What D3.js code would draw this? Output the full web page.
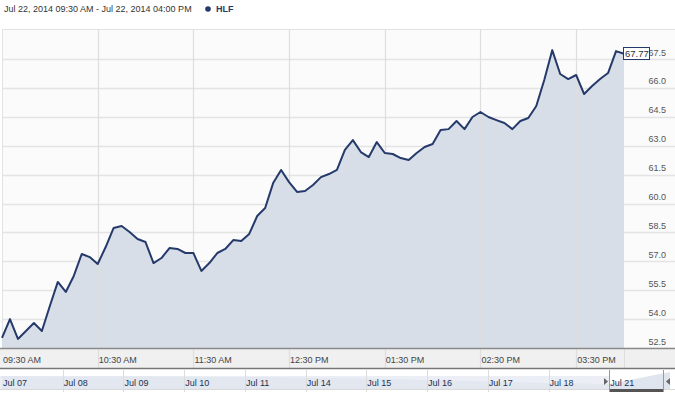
<!DOCTYPE html>
<html>
<head>
<meta charset="utf-8">
<script src="https://cdn.jsdelivr.net/npm/d3@7/dist/d3.min.js"></script>
<style>
body { margin: 0; background: #fff; }
svg { display: block; font-family: "Liberation Sans", Arial, sans-serif; }
</style>
</head>
<body>
<script>
// HLF intraday, 5 minute closes from 09:30 to 16:00
var symbol = "HLF";
var rangeTitle = "Jul 22, 2014 09:30 AM - Jul 22, 2014 04:00 PM";
var startTime = new Date(2014, 6, 22, 9, 30);
var endTime = new Date(2014, 6, 22, 16, 0);
var stepMinutes = 5;
var prices = [53.02, 54.00, 52.97, 53.38, 53.80, 53.38, 54.68, 55.93, 55.41, 56.24,
  57.38, 57.22, 56.86, 57.74, 58.73, 58.83, 58.52, 58.16, 58.00, 56.91,
  57.17, 57.69, 57.64, 57.43, 57.43, 56.50, 56.91, 57.43, 57.64, 58.10,
  58.05, 58.42, 59.35, 59.77, 61.06, 61.74, 61.11, 60.60, 60.65, 60.96,
  61.37, 61.53, 61.74, 62.78, 63.29, 62.67, 62.41, 63.19, 62.62, 62.57,
  62.36, 62.26, 62.62, 62.93, 63.09, 63.81, 63.86, 64.28, 63.86, 64.49,
  64.75, 64.49, 64.33, 64.18, 63.86, 64.28, 64.44, 65.06, 66.41, 67.96,
  66.72, 66.46, 66.67, 65.68, 66.10, 66.46, 66.77, 67.91, 67.77];
var yTicks = [52.5, 54.0, 55.5, 57.0, 58.5, 60.0, 61.5, 63.0, 64.5, 66.0, 67.5];
var xTickHours = ["09:30 AM", "10:30 AM", "11:30 AM", "12:30 PM", "01:30 PM", "02:30 PM", "03:30 PM"];

// navigator (daily)
var navDays = ["Jul 07", "Jul 08", "Jul 09", "Jul 10", "Jul 11", "Jul 14", "Jul 15", "Jul 16", "Jul 17", "Jul 18", "Jul 21", "Jul 22"];
var navClose = [64.2, 63.8, 64.0, 63.6, 63.3, 62.6, 61.9, 60.6, 59.2, 57.8, 57.0, 67.77];

var width = 675, height = 395;
var lineColor = "#253a6b";
var fs = 9;

var svg = d3.select("body").append("svg").attr("width", width).attr("height", height);

var parseTick = d3.timeParse("%I:%M %p");
var data = prices.map(function(p, i) {
  return { t: d3.timeMinute.offset(startTime, i * stepMinutes), v: p };
});

var x = d3.scaleTime().domain([startTime, endTime]).range([2, 624]);
var y = d3.scaleLinear().domain([52.5, 67.5]).range([348, 59]);

// title
svg.append("text").attr("x", 4).attr("y", 12).attr("font-size", fs).attr("fill", "#333").text(rangeTitle);
svg.append("circle").attr("cx", 208).attr("cy", 9).attr("r", 2.8).attr("fill", lineColor);
svg.append("text").attr("x", 216).attr("y", 12).attr("font-size", fs).attr("font-weight", "bold")
  .attr("fill", lineColor).text(symbol);

// plot background
svg.append("rect").attr("x", 2).attr("y", 29).attr("width", width - 2).attr("height", 319).attr("fill", "#fbfbfb");
svg.append("line").attr("x1", 2).attr("x2", width).attr("y1", 29.5).attr("y2", 29.5).attr("stroke", "#e2e2e2");
svg.append("line").attr("x1", 2.5).attr("x2", 2.5).attr("y1", 29).attr("y2", 348).attr("stroke", "#e2e2e2");

// horizontal grid + right labels
var yAxis = svg.append("g").selectAll("g").data(yTicks).enter().append("g");
yAxis.append("line").attr("x1", 2).attr("x2", width)
  .attr("y1", function(d) { return Math.round(y(d)) + 0.5; })
  .attr("y2", function(d) { return Math.round(y(d)) + 0.5; })
  .attr("stroke", "#e4e4e4").attr("stroke-width", 1.5);
yAxis.append("text").attr("x", 666).attr("y", function(d) { return y(d) - 3.5; })
  .attr("text-anchor", "end").attr("font-size", fs).attr("fill", "#555")
  .text(d3.format(".1f"));

// area + line
var area = d3.area().x(function(d) { return x(d.t); }).y0(348).y1(function(d) { return y(d.v); });
var line = d3.line().x(function(d) { return x(d.t); }).y(function(d) { return y(d.v); });

svg.append("path").datum(data).attr("d", area).attr("fill", "#d5dce6").attr("fill-opacity", 0.95);

// x axis band
svg.append("rect").attr("x", 0).attr("y", 348).attr("width", width).attr("height", 20).attr("fill", "#f0f0f0");

// vertical grid lines at hour ticks
var tickTimes = xTickHours.map(function(s) {
  var p = parseTick(s);
  return new Date(2014, 6, 22, p.getHours(), p.getMinutes());
});
svg.append("g").selectAll("line").data(tickTimes.slice(1)).enter().append("line")
  .attr("x1", function(d) { return Math.round(x(d)) + 0.5; })
  .attr("x2", function(d) { return Math.round(x(d)) + 0.5; })
  .attr("y1", 29).attr("y2", 368).attr("stroke", "#dedede").attr("stroke-width", 1.2);
svg.append("line").attr("x1", 624.5).attr("x2", 624.5).attr("y1", 348).attr("y2", 368).attr("stroke", "#dedede");

svg.append("path").datum(data).attr("d", line).attr("fill", "none")
  .attr("stroke", lineColor).attr("stroke-width", 2).attr("stroke-linejoin", "round");

svg.append("line").attr("x1", 0).attr("x2", width).attr("y1", 348.5).attr("y2", 348.5).attr("stroke", "#8a8a8a").attr("stroke-width", 1.5);
svg.append("line").attr("x1", 0).attr("x2", width).attr("y1", 368.5).attr("y2", 368.5).attr("stroke", "#777").attr("stroke-width", 1.5);

svg.append("g").selectAll("text").data(tickTimes).enter().append("text")
  .attr("x", function(d) { return x(d) + 1; }).attr("y", 363)
  .attr("font-size", fs).attr("fill", "#444")
  .text(d3.timeFormat("%I:%M %p"));

// last value flag
var last = data[data.length - 1];
svg.append("rect").attr("x", 623.5).attr("y", Math.round(y(last.v)) - 6.5).attr("width", 26).attr("height", 12)
  .attr("fill", "#fff").attr("stroke", lineColor);
svg.append("text").attr("x", 625).attr("y", y(last.v) + 3.5).attr("font-size", fs + 0.5).attr("fill", "#333")
  .text(d3.format(".2f")(last.v));

// navigator
var nx = d3.scaleLinear().domain([0, navDays.length - 1]).range([2, 670]);
var ny = d3.scaleLinear().domain([57, 67.77]).range([384, 372]);
svg.append("rect").attr("x", 0).attr("y", 370).attr("width", width).attr("height", 20).attr("fill", "#fff");
svg.append("path").datum(navClose)
  .attr("d", d3.area().x(function(d, i) { return nx(i); }).y0(389).y1(function(d) { return ny(d); }))
  .attr("fill", "#dfe5ef");
svg.append("rect").attr("x", 0).attr("y", 376).attr("width", 609).attr("height", 13).attr("fill", "#e3e8f1").attr("fill-opacity", 0.7);
svg.append("g").selectAll("line").data(navDays.slice(1, 11)).enter().append("line")
  .attr("x1", function(d, i) { return Math.round(nx(i + 1)) + 0.5; })
  .attr("x2", function(d, i) { return Math.round(nx(i + 1)) + 0.5; })
  .attr("y1", 370).attr("y2", 392).attr("stroke", "#dcdcdc");
svg.append("line").attr("x1", 0).attr("x2", width).attr("y1", 389.5).attr("y2", 389.5).attr("stroke", "#d8d8d8");
svg.append("g").selectAll("text").data(navDays.slice(0, 11)).enter().append("text")
  .attr("x", function(d, i) { return nx(i) + 1; }).attr("y", 386)
  .attr("font-size", fs).attr("fill", "#22324f").text(function(d) { return d; });

// selected range handles
svg.append("line").attr("x1", 609.5).attr("x2", 609.5).attr("y1", 370).attr("y2", 392).attr("stroke", "#999");
svg.append("line").attr("x1", 663.5).attr("x2", 663.5).attr("y1", 370).attr("y2", 392).attr("stroke", "#999");
svg.append("rect").attr("x", 610).attr("y", 389).attr("width", 53).attr("height", 3).attr("fill", "#555");
svg.append("path").attr("d", "M604,378 L608,381.5 L604,385 Z").attr("fill", "#666");
svg.append("path").attr("d", "M670,378 L666,381.5 L670,385 Z").attr("fill", "#666");
</script>
</body>
</html>
